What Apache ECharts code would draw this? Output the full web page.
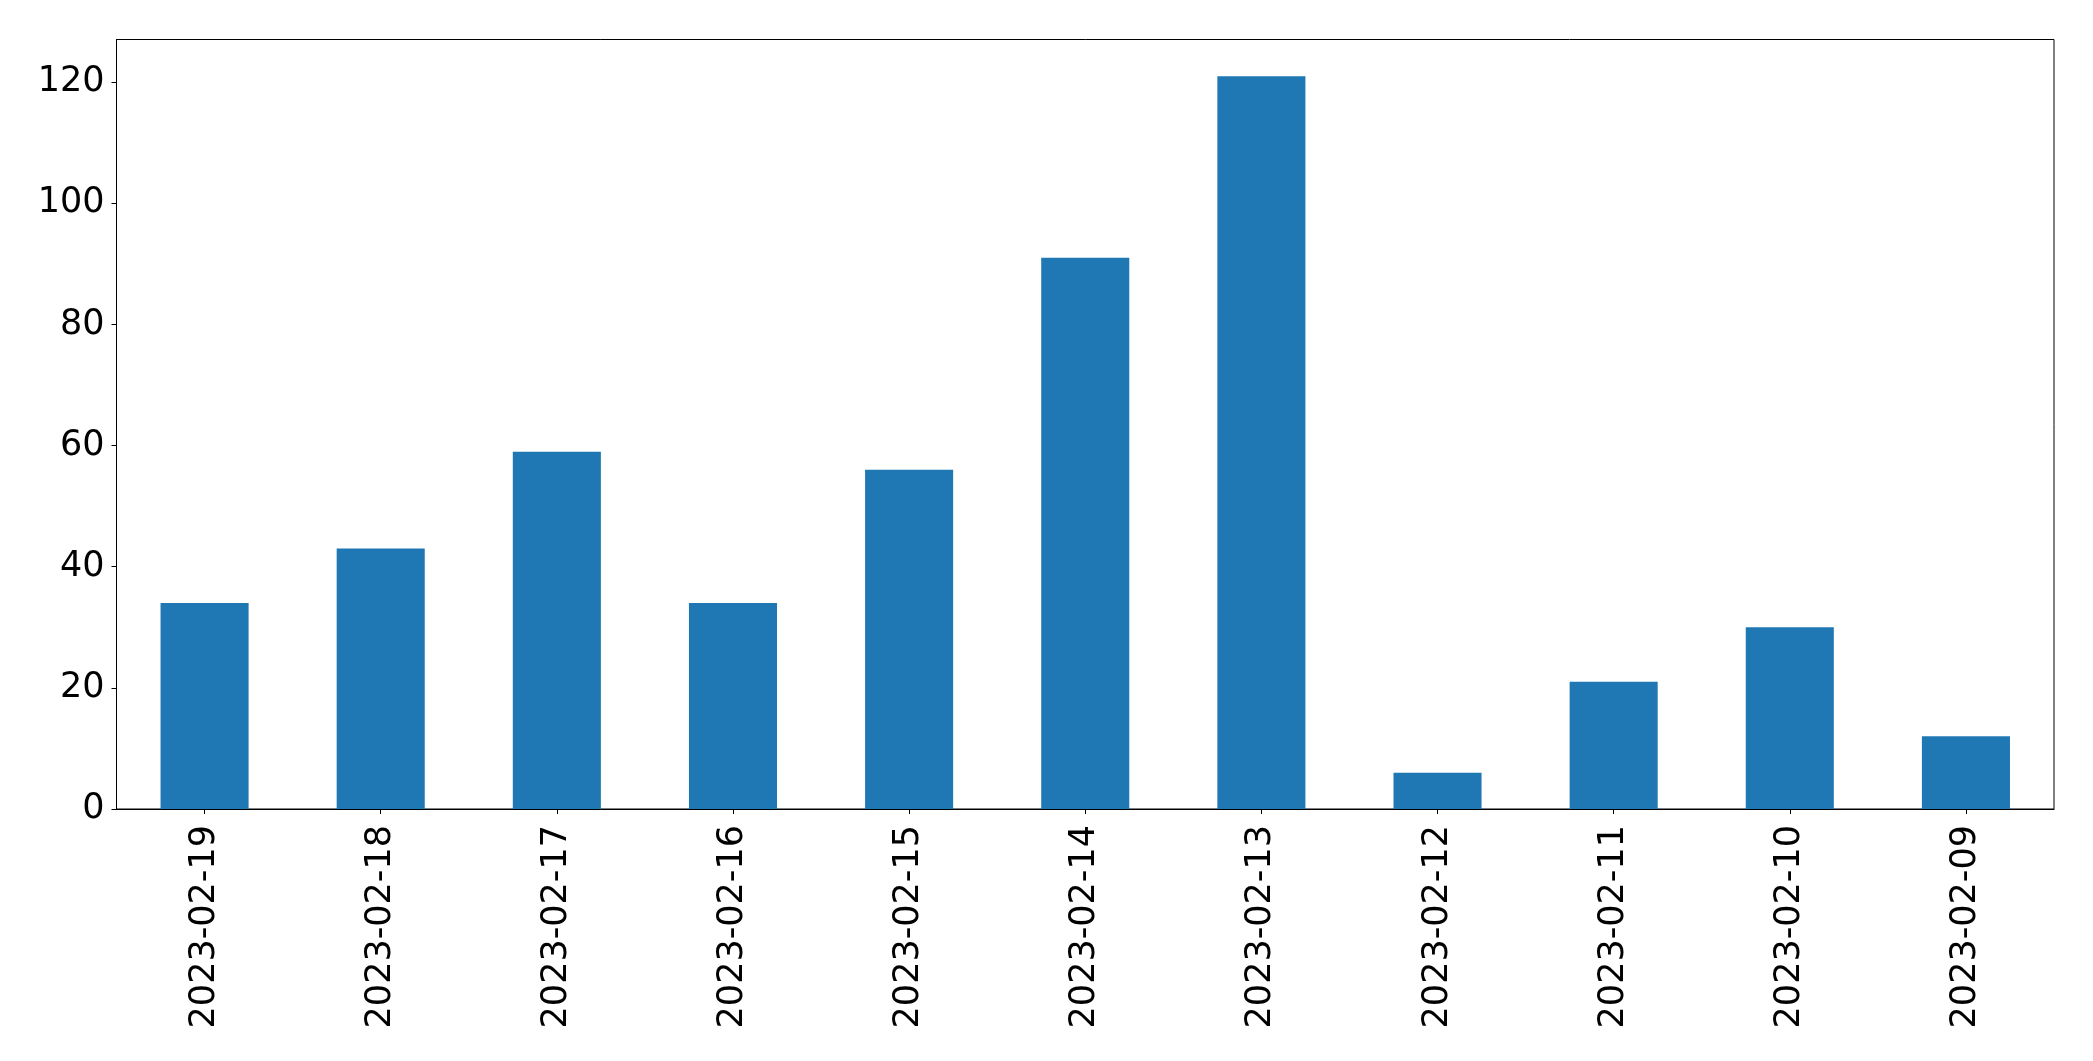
<!DOCTYPE html>
<html>
<head>
<meta charset="utf-8">
<script src="https://cdn.jsdelivr.net/npm/echarts@6/dist/echarts.min.js"></script>
<style>
html,body{margin:0;padding:0;background:#fff;}
#chart{width:2093px;height:1061px;}
</style>
</head>
<body>
<div id="chart"></div>
<script>
const categories = ['2023-02-19','2023-02-18','2023-02-17','2023-02-16','2023-02-15','2023-02-14','2023-02-13','2023-02-12','2023-02-11','2023-02-10','2023-02-09'];
const values = [34, 43, 59, 34, 56, 91, 121, 6, 21, 30, 12];
const yTicks = [0, 20, 40, 60, 80, 100, 120];

const chart = echarts.init(document.getElementById('chart'), null, {renderer: 'canvas'});
const font = 'DejaVu Sans';
chart.setOption({
  animation: false,
  backgroundColor: '#ffffff',
  grid: {
    left: 116.5, right: 39, top: 39.5, bottom: 252,
    show: true, borderColor: '#000', borderWidth: 1, backgroundColor: 'transparent'
  },
  xAxis: {
    type: 'category',
    data: categories,
    boundaryGap: true,
    axisLine: {show: true, lineStyle: {color: '#000', width: 1}},
    axisTick: {show: true, alignWithLabel: true, length: 5, lineStyle: {color: '#000', width: 1}},
    axisLabel: {rotate: 90, fontSize: 35, fontFamily: font, color: '#000', margin: 16, interval: 0}
  },
  yAxis: {
    type: 'value',
    min: 0,
    max: 127.05,
    interval: 20,
    splitLine: {show: false},
    axisLine: {show: true, lineStyle: {color: '#000', width: 1}},
    axisTick: {show: true, length: 5, customValues: yTicks, lineStyle: {color: '#000', width: 1}},
    axisLabel: {fontSize: 35, fontFamily: font, color: '#000', margin: 12, customValues: yTicks}
  },
  series: [{
    type: 'bar',
    data: values,
    barWidth: '50%',
    itemStyle: {color: '#1f77b4'}
  }]
});
</script>
</body>
</html>
